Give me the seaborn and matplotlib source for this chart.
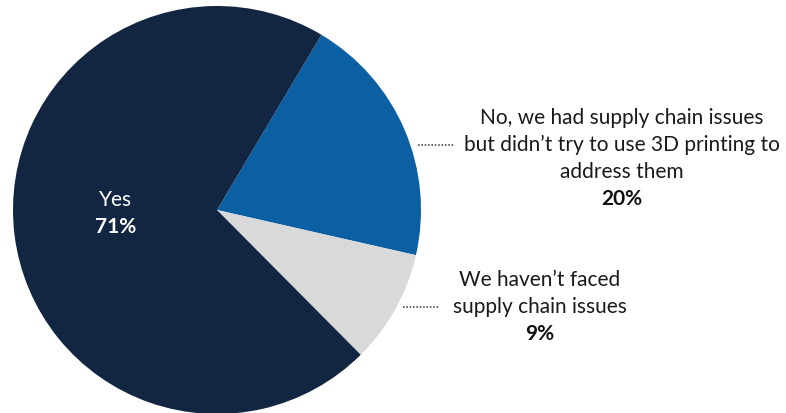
import matplotlib
matplotlib.use("Agg")
import matplotlib.pyplot as plt
import seaborn as sns

categories = ["No, we had supply chain issues\nbut didn\u2019t try to use 3D printing to\naddress them",
              "We haven\u2019t faced\nsupply chain issues",
              "Yes"]
values = [20, 9, 71]
colors = ["#0B5FA3", "#D9D9D9", "#122642"]

sns.set_theme(style="white")
plt.rcParams['font.family'] = ['Lato', 'DejaVu Sans']

W, H = 786, 413
fig = plt.figure(figsize=(W / 100, H / 100), dpi=100)
ax = fig.add_axes([0, 0, 1, 1])

cx, cy, r = 217, H - 210, 204
start = 59.2
wedges, _ = ax.pie(values, colors=colors, startangle=start, counterclock=False,
                   center=(cx, cy), radius=r, frame=True,
                   wedgeprops=dict(linewidth=0))
ax.set_xlim(0, W)
ax.set_ylim(0, H)
ax.set_aspect("equal")
ax.axis("off")

fs = 15
txt = "#1a1a1a"
# Yes label inside
ax.text(116, H - 200, categories[2], color="white", fontsize=fs, ha="center", va="center")
ax.text(116, H - 227, f"{values[2]}%", color="white", fontsize=fs, ha="center", va="center", fontweight="bold")

# Label 1
lines1 = categories[0].split("\n")
for i, ln in enumerate(lines1):
    ax.text(622, H - (118 + 27 * i), ln, color=txt, fontsize=fs, ha="center", va="center")
ax.text(622, H - (118 + 27 * 3), f"{values[0]}%", color="#111111", fontsize=fs, ha="center", va="center", fontweight="bold")
ax.plot([418, 455], [H - 145, H - 145], color="#333333", lw=1.1, ls=(0, (1, 1.2)))

# Label 2
lines2 = categories[1].split("\n")
for i, ln in enumerate(lines2):
    ax.text(540, H - (280 + 27 * i), ln, color=txt, fontsize=fs, ha="center", va="center")
ax.text(540, H - (280 + 27 * 2), f"{values[1]}%", color="#111111", fontsize=fs, ha="center", va="center", fontweight="bold")
ax.plot([403, 440], [H - 307, H - 307], color="#333333", lw=1.1, ls=(0, (1, 1.2)))

fig.savefig("out.png", dpi=100, facecolor="white")
